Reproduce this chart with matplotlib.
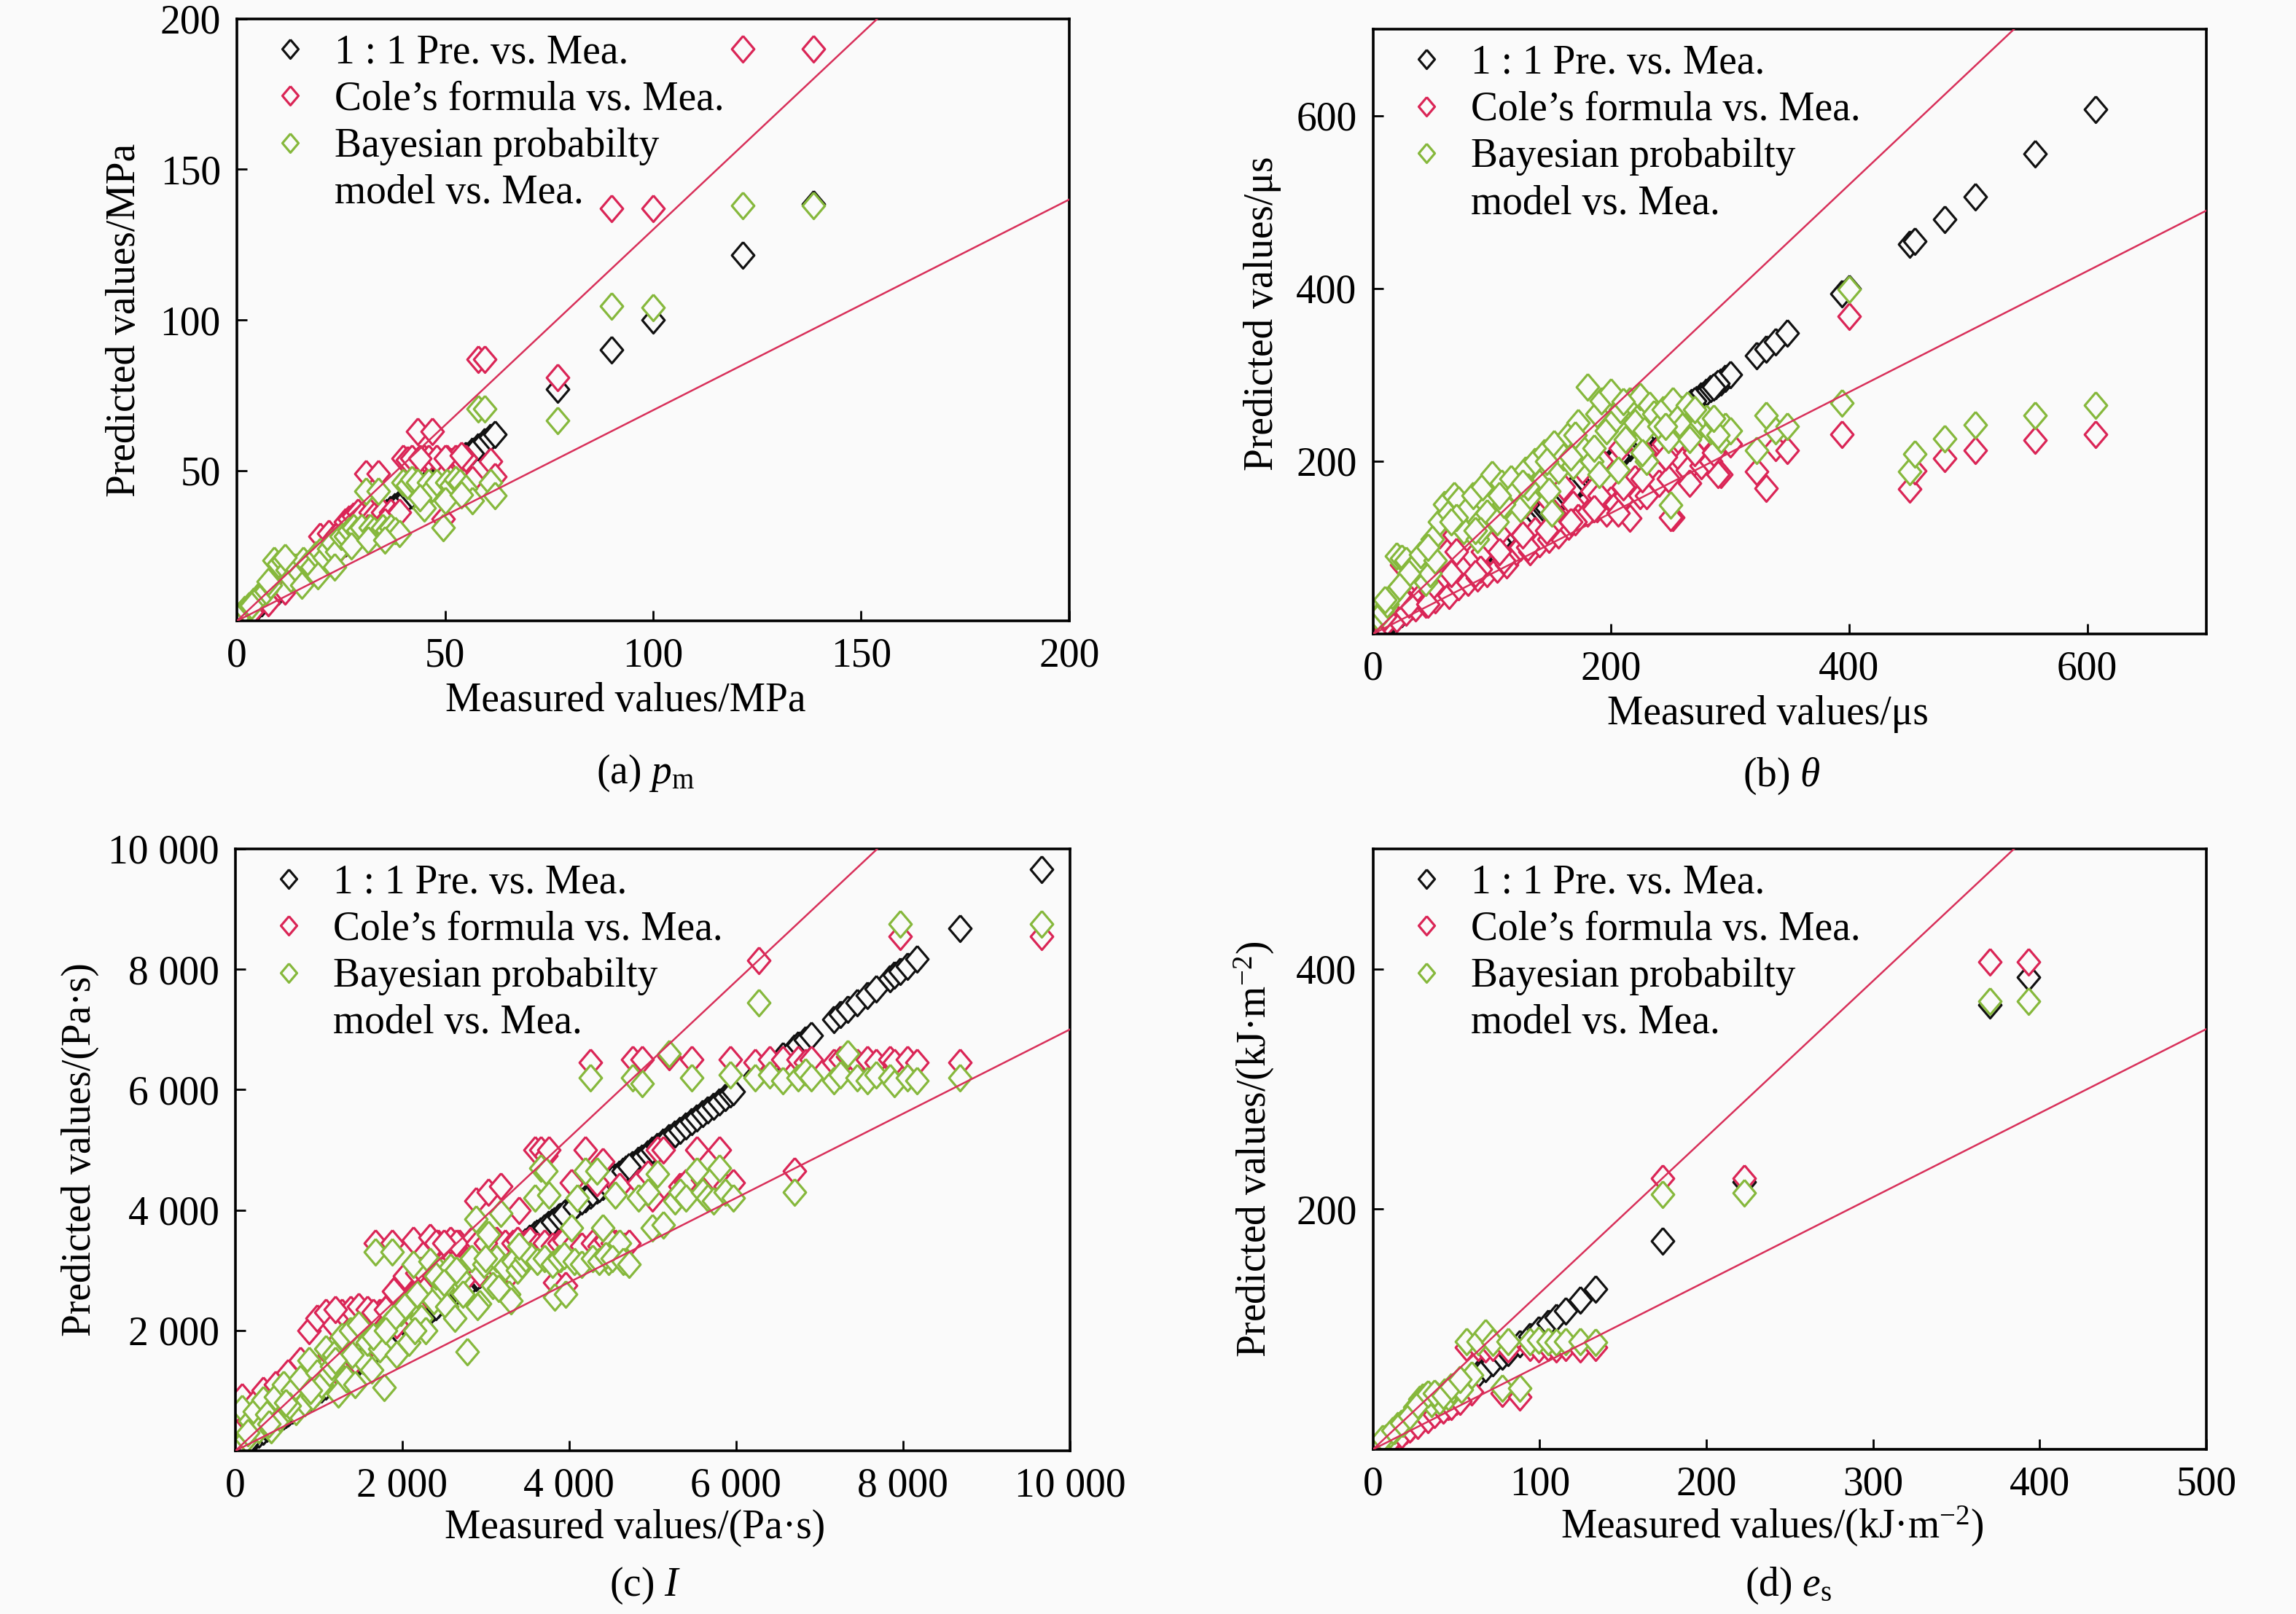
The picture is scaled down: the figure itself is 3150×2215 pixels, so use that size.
import matplotlib.pyplot as plt
import numpy as np
from matplotlib.lines import Line2D
from matplotlib.ticker import FuncFormatter

plt.rcParams['font.family'] = ['Liberation Serif', 'DejaVu Serif']
plt.rcParams['mathtext.fontset'] = 'custom'
plt.rcParams['mathtext.rm'] = 'Liberation Serif'
plt.rcParams['mathtext.it'] = 'Liberation Serif:italic'
plt.rcParams['mathtext.bf'] = 'Liberation Serif:bold'

BG = '#FAFAFA'
BLACK = '#111111'
RED = '#DA2556'
GREEN = '#86B83C'
LINE = '#D8305A'
DIAMOND = [(0, 1), (0.85, 0), (0, -1), (-0.85, 0), (0, 1)]
FS = 20

# (a) peak pressure p_m, MPa
mea_a = [1, 2, 3, 4, 5, 6, 7, 8, 9, 10,
         11, 12, 13, 14, 15, 16, 17, 18, 19, 20,
         21, 22, 23, 24, 25, 26, 27, 28, 29, 30,
         31, 32, 33, 34, 35, 36, 37, 38, 39, 40,
         41, 42, 43.5, 45, 46, 47, 48, 49.5, 50.5, 51.5,
         52.5, 53.5, 55, 56.5, 58, 59.5, 61, 62, 77, 90,
         100, 121.5, 138.5, 3.5, 7.5, 11.5, 15.5, 19.5, 23.5, 27.5,
         31.5, 35.5, 44, 50, 54]
cole_a = [1.5, 2.5, 3.5, 5, 6, 7, 8, 9, 10, 11,
          12, 13, 13.5, 15, 16, 16.5, 18, 19, 20, 28,
          24, 29, 27, 28.5, 30, 33, 34, 35, 36, 35,
          49, 36, 35, 49, 36, 34, 36, 35, 36, 54,
          53.5, 54, 63, 54, 54, 63, 54, 34, 54, 53,
          54, 53.5, 54, 47, 87, 87, 53, 48, 81, 137,
          137, 190, 190, 3, 6, 10, 13, 17, 22, 26,
          31, 33, 54, 54, 55]
bayes_a = [2.5, 4, 5, 6.5, 8, 9, 10, 12, 20, 19,
           20, 17, 14, 18, 16, 20, 19, 18, 22, 23,
           21, 24, 26, 23, 28, 28, 30, 31, 30, 31,
           43, 31, 30, 43, 31, 30, 31, 30, 29, 46,
           45, 47, 46, 37.5, 46, 44, 46, 31, 46, 45,
           47, 46, 44, 40, 70.5, 70.5, 46, 41.6, 66.7, 104.6,
           104, 138, 138, 5, 13, 21, 12, 15, 18, 25,
           27, 27, 41, 40, 42]

# (b) decay time theta, us
mea_b = [4, 8, 12, 16, 20, 24, 28, 32, 36, 40,
         44, 48, 52, 56, 60, 64, 68, 72, 76, 80,
         84, 88, 92, 96, 100, 104, 108, 112, 116, 120,
         124, 128, 132, 136, 140, 144, 148, 152, 156, 160,
         164, 168, 172, 176, 180, 184, 188, 192, 196, 200,
         204, 208, 212, 216, 220, 224, 228, 232, 236, 240,
         244, 248, 252, 256, 260, 264, 268, 272, 276, 280,
         284, 288, 292, 296, 300, 10, 30, 50, 70, 90,
         110, 130, 150, 170, 190, 210, 230, 250, 270, 290,
         22, 46, 66, 86, 106, 126, 146, 166, 186, 206,
         226, 246, 266, 286, 322, 330, 338, 348, 394, 400,
         451, 455, 480, 506, 556, 607]
cole_b = [6, 10, 14, 30, 18, 80, 25, 40, 30, 45,
          35, 50, 40, 115, 60, 45, 115, 55, 75, 60,
          90, 65, 95, 70, 105, 75, 120, 80, 130, 95,
          100, 150, 95, 120, 105, 160, 110, 140, 115, 170,
          125, 150, 135, 190, 140, 165, 145, 200, 140, 155,
          150, 215, 160, 134, 180, 160, 210, 170, 190, 175,
          220, 180, 135, 225, 200, 190, 230, 215, 195, 225,
          200, 215, 185, 230, 220, 20, 35, 55, 95, 75,
          85, 100, 125, 130, 160, 170, 160, 135, 210, 185,
          45, 35, 70, 70, 95, 115, 120, 130, 145, 140,
          180, 205, 175, 210, 188, 169, 216, 213, 231, 368,
          168, 189, 203, 213, 224, 231]
bayes_b = [20, 25, 35, 45, 90, 88, 85, 75, 80, 92,
           60, 70, 85, 130, 150, 140, 160, 155, 120, 145,
           160, 110, 170, 140, 185, 130, 175, 150, 180, 165,
           145, 190, 160, 200, 175, 210, 165, 220, 190, 205,
           230, 195, 245, 215, 286, 200, 255, 270, 235, 280,
           250, 260, 225, 270, 245, 275, 235, 265, 255, 240,
           260, 225, 270, 250, 240, 265, 230, 255, 245, 250,
           235, 245, 225, 240, 235, 40, 70, 110, 135, 120,
           150, 170, 140, 230, 185, 269, 200, 149, 260, 230,
           55, 100, 130, 120, 160, 175, 200, 205, 215, 190,
           210, 240, 225, 250, 213, 253, 235, 240, 267, 399,
           188, 208, 226, 242, 253, 265]

# (c) impulse I, Pa*s
mea_c = [30, 80, 130, 180, 230, 280, 330, 380, 430, 480,
         530, 580, 630, 680, 730, 780, 830, 880, 930, 980,
         1030, 1080, 1130, 1180, 1230, 1280, 1330, 1380, 1430, 1480,
         1530, 1580, 1630, 1680, 1730, 1780, 1830, 1880, 1930, 1980,
         2030, 2080, 2130, 2180, 2230, 2280, 2330, 2380, 2430, 2480,
         2530, 2580, 2630, 2680, 2730, 2780, 2830, 2880, 2930, 2980,
         3030, 3080, 3130, 3180, 3230, 3280, 3330, 3380, 3430, 3480,
         3530,
         150, 400, 650, 900, 1150, 1400, 1650, 1900, 2150, 2400,
         2650, 2900, 3150, 3400, 600, 1200, 1800, 2500, 3000, 3300,
         3590, 3660, 3720, 3760, 3830, 3900, 3960, 4030, 4100, 4190,
         4250, 4330, 4400, 4470, 4550, 4600, 4680, 4760, 4830, 4870,
         4940, 5000, 5060, 5130, 5200, 5270, 5330, 5400, 5470, 5530,
         5600, 5660, 5730, 5800, 5870, 5930, 5970,
         3620, 3700, 3800, 3880, 3940, 4060, 4150, 4280, 4360, 4440,
         4520, 4650, 4720,
         6230, 6270, 6400, 6560, 6700, 6740, 6830, 6900, 7170, 7250,
         7340, 7450, 7570, 7680, 7840, 7900, 7970, 8050, 8170, 8680,
         9660]
cole_c = [60, 900, 250, 300, 800, 400, 1000, 450, 600, 1100,
          650, 800, 1300, 850, 1000, 1500, 950, 2000, 1200, 2200,
          1400, 2300, 1600, 2100, 1300, 2300, 1700, 2350, 1500, 2400,
          2000, 2350, 1800, 3450, 2300, 2000, 2400, 3450, 2100, 2800,
          2900, 2500, 3500, 2950, 3000, 2700, 3550, 2900, 3450, 3000,
          2950, 3500, 2850, 3450, 3000, 2900, 3500, 4150, 2950, 3450,
          4300, 3000, 3500, 4400, 3450, 2950, 3450, 3500, 3400, 3450,
          3500,
          500, 700, 1000, 1250, 1700, 1900, 2300, 2650, 2400, 3450,
          3450, 3450, 3000, 4000, 1000, 2350, 2350, 3450, 3450, 2950,
          5000, 5000, 4900, 5000, 2800, 3450, 2750, 4450, 3400, 5000,
          6450, 4450, 4800, 3400, 3450, 4400, 3400, 6500, 4450, 6500,
          4600, 4200, 5000, 5000, 6550, 4200, 4400, 4450, 6500, 5000,
          4500, 4300, 4550, 5000, 4400, 6500, 4450,
          3400, 3450, 3400, 3450, 3500, 3450, 3400, 3450, 3400, 3500,
          3450, 3400, 3450,
          6450, 8150, 6500, 6500, 4650, 6500, 6450, 6500, 6450, 6500,
          6550, 6450, 6500, 6450, 6500, 6450, 8550, 6500, 6450, 6450,
          8550]
bayes_c = [50, 700, 200, 500, 650, 350, 850, 600, 350, 900,
           550, 1100, 700, 1000, 650, 1200, 800, 1500, 900, 1300,
           1100, 1700, 1300, 1600, 950, 1900, 1200, 2000, 1100, 2100,
           1500, 1800, 1350, 3300, 1700, 1050, 2100, 3300, 1600, 2300,
           2400, 1800, 3100, 2600, 2200, 2000, 3150, 2500, 3000, 2700,
           2400, 3050, 2200, 2900, 2600, 1650, 3200, 3850, 2450, 3100,
           3600, 2750, 3200, 3950, 3050, 2600, 3150, 3000, 3100, 3200,
           3250,
           300, 450, 750, 1000, 1400, 1600, 1900, 2200, 2000, 2900,
           3000, 2400, 2700, 3400, 800, 1500, 2000, 2800, 3200, 2500,
           4200, 4700, 4650, 4250, 2550, 3200, 2600, 3700, 4200, 4650,
           6200, 4650, 3700, 3150, 4250, 3450, 3150, 6200, 4200, 6100,
           4300, 3700, 4600, 3750, 6600, 4150, 4300, 4200, 6200, 4650,
           4300, 4200, 4150, 4700, 4300, 6250, 4200,
           3150, 3200, 3100, 3200, 3250, 3150, 3100, 3200, 3150, 3250,
           3200, 3150, 3100,
           6200, 7450, 6250, 6150, 4300, 6200, 6300, 6200, 6150, 6250,
           6600, 6200, 6150, 6250, 6200, 6100, 8750, 6200, 6150, 6200,
           8750]

# (d) energy flux density e_s, kJ/m^2
mea_d = [1, 3, 5, 8, 10, 13, 15, 18, 20, 23,
         25, 28, 30, 32, 35, 38, 40, 43, 45, 48,
         50, 53, 56, 59, 63, 67.5, 72, 77.5, 81, 88,
         94, 99.4, 105, 110, 115.5, 124.5, 133.7, 173.7, 222.7, 370,
         393.5, 6, 12, 17, 22, 27, 33, 37, 42, 47,
         52]
cole_d = [1, 2, 4, 6, 8, 10, 13, 14, 16, 18,
          22, 24, 26, 28, 30, 32, 34, 38, 36, 42,
          40, 45, 85, 48, 85, 84, 85, 47, 84, 44,
          85, 84, 85, 84, 85, 84, 85, 226, 226, 406,
          406, 5, 9, 12, 17, 20, 25, 29, 33, 36,
          40]
bayes_d = [2, 4, 6, 10, 13, 16, 20, 22, 25, 30,
           35, 42, 44, 45, 38, 45, 40, 48, 44, 50,
           53, 50, 90, 62, 90, 97, 89, 51, 90, 51,
           90, 91, 90, 89, 90, 90, 89, 212.5, 213.5, 373,
           373, 9, 16, 22, 28, 37, 46, 47, 45, 52,
           58]

LABELS = ['1 : 1 Pre. vs. Mea.', 'Cole\u2019s formula vs. Mea.',
          'Bayesian probabilty', 'model vs. Mea.']


def thousands(v, pos):
    return f'{int(round(v)):,}'.replace(',', ' ')


def panel(ax, mea, cole, bayes, lim, xticks, yticks, xlabel, ylabel,
          ylab_xy, xlab_xy, fmt=None):
    ax.set_facecolor(BG)
    kw = dict(linestyle='none', marker=DIAMOND, markersize=13, mfc=BG, mew=1.15)
    h1, = ax.plot(mea, mea, mec=BLACK, **kw)
    h2, = ax.plot(mea, cole, mec=RED, **kw)
    h3, = ax.plot(mea, bayes, mec=GREEN, **kw)
    xs = np.array([0, lim])
    ax.plot(xs, 1.3 * xs, color=LINE, lw=0.9, zorder=3)
    ax.plot(xs, 0.7 * xs, color=LINE, lw=0.9, zorder=3)
    ax.set_xlim(0, lim)
    ax.set_ylim(0, lim)
    ax.set_xticks(xticks)
    ax.set_yticks(yticks)
    if fmt is not None:
        ax.xaxis.set_major_formatter(FuncFormatter(fmt))
        ax.yaxis.set_major_formatter(FuncFormatter(fmt))
    ax.tick_params(direction='in', length=5, width=1.0, labelsize=FS, pad=8,
                   top=False, right=False)
    for s in ax.spines.values():
        s.set_linewidth(1.3)
    ax.set_xlabel(xlabel, fontsize=FS)
    ax.set_ylabel(ylabel, fontsize=FS)
    ax.xaxis.set_label_coords(*xlab_xy)
    ax.xaxis.label.set_va('center')
    ax.yaxis.set_label_coords(*ylab_xy)
    ax.yaxis.label.set_va('center')
    blank = Line2D([], [], linestyle='none', marker='')
    ax.legend([h1, h2, h3, blank], LABELS, loc='upper left', bbox_to_anchor=(0.035, 0.975),
              frameon=False, fontsize=FS, markerscale=0.72, handlelength=1.2,
              handletextpad=0.5, labelspacing=0.22, borderpad=0, borderaxespad=0)


fig = plt.figure(figsize=(15.75, 11.075), dpi=200, facecolor=BG)
ax_a = fig.add_axes([0.1032, 0.6153, 0.3625, 0.373])
ax_b = fig.add_axes([0.598, 0.6072, 0.3629, 0.3747])
ax_c = fig.add_axes([0.1025, 0.1011, 0.3635, 0.373])
ax_d = fig.add_axes([0.598, 0.102, 0.3629, 0.372])

panel(ax_a, mea_a, cole_a, bayes_a, 200, [0, 50, 100, 150, 200], [50, 100, 150, 200],
      'Measured values/MPa', 'Predicted values/MPa', (-0.135, 0.5), (0.467, -0.133))
panel(ax_b, mea_b, cole_b, bayes_b, 700, [0, 200, 400, 600], [200, 400, 600],
      'Measured values/\u03bcs', 'Predicted values/\u03bcs', (-0.133, 0.53), (0.474, -0.1325))
panel(ax_c, mea_c, cole_c, bayes_c, 10000, [0, 2000, 4000, 6000, 8000, 10000],
      [2000, 4000, 6000, 8000, 10000],
      'Measured values/(Pa\u00b7s)', 'Predicted values/(Pa\u00b7s)', (-0.186, 0.5),
      (0.479, -0.128), fmt=thousands)
panel(ax_d, mea_d, cole_d, bayes_d, 500, [0, 100, 200, 300, 400, 500], [200, 400],
      'Measured values/(kJ\u00b7m$^{-2}$)', 'Predicted values/(kJ\u00b7m$^{-2}$)',
      (-0.142, 0.5), (0.479, -0.128))

fig.text(0.281, 0.521, r'(a) $p_{\mathrm{m}}$', ha='center', va='center', fontsize=FS)
fig.text(0.776, 0.519, r'(b) $\theta$', ha='center', va='center', fontsize=FS)
fig.text(0.281, 0.0176, r'(c) $I$', ha='center', va='center', fontsize=FS)
fig.text(0.779, 0.0176, r'(d) $e_{\mathrm{s}}$', ha='center', va='center', fontsize=FS)

fig.savefig('out.png', dpi=200, facecolor=BG)
